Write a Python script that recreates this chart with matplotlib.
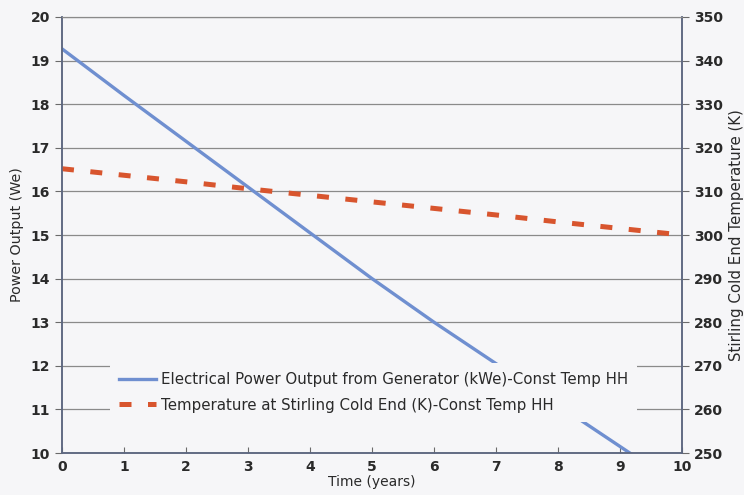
import matplotlib
matplotlib.use("Agg")
import matplotlib.pyplot as plt

# values (one per year)
years = [0, 1, 2, 3, 4, 5, 6, 7, 8, 9, 10]
power = [19.27, 18.2, 17.15, 16.1, 15.05, 14.0, 13.0, 12.05, 11.1, 10.15, 9.2]
temp_cold = [315.2, 313.7, 312.2, 310.6, 309.1, 307.6, 306.1, 304.6, 303.0, 301.5, 300.0]

x_ticks = list(range(0, 11))
power_ticks = list(range(10, 21))
temp_ticks = list(range(250, 351, 10))

bg = "#f6f6f8"
txt = "#2a2a2a"

fig = plt.figure(figsize=(7.44, 4.95), dpi=100, facecolor=bg)
ax = fig.add_axes([0.0833, 0.0848, 0.8334, 0.8809])
ax.set_facecolor(bg)

# grid lines on the left scale
ax.set_ylim(10, 20)
ax.set_xlim(0, 10)
ax.set_yticks(power_ticks)
ax.set_xticks(x_ticks)
ax.grid(axis="y", color="#8a8a8a", linewidth=0.9)
ax.set_axisbelow(True)

l1, = ax.plot(years, power, color="#6f8fd0", linewidth=2.4,
              label="Electrical Power Output from Generator (kWe)-Const Temp HH")

ax2 = ax.twinx()
ax2.set_ylim(250, 350)
ax2.set_yticks(temp_ticks)
l2, = ax2.plot(years, temp_cold, color="#d8552e", linewidth=3.6,
               dashes=(2.4, 3.3),
               label="Temperature at Stirling Cold End (K)-Const Temp HH")

for a in (ax, ax2):
    for s in ("left", "right", "bottom"):
        a.spines[s].set_color("#5d6780")
        a.spines[s].set_linewidth(1.1)
    a.spines["top"].set_color("#8a8a8a")
    a.tick_params(labelsize=10, labelcolor=txt, colors="#6a6a6a", length=5)

ax.tick_params(axis="x", direction="in", length=4, pad=5)
ax.set_xlabel("Time (years)", fontsize=10, color=txt, labelpad=1)
ax.set_ylabel("Power Output (We)", fontsize=10.3, color=txt, labelpad=5)
ax2.set_ylabel("Stirling Cold End Temperature (K)", fontsize=10.8, color=txt, labelpad=4)

for lab in ax.get_xticklabels() + ax.get_yticklabels() + ax2.get_yticklabels():
    lab.set_fontweight("bold")

leg = ax2.legend(handles=[l1, l2], loc="lower left", bbox_to_anchor=(0.065, 0.055),
                 frameon=True, facecolor=bg, edgecolor="none", framealpha=1,
                 fontsize=10.8, handlelength=2.5, handletextpad=0.3,
                 borderpad=0.6, labelspacing=0.7)
for t in leg.get_texts():
    t.set_color(txt)
leg.set_zorder(10)

plt.savefig("out.png", dpi=100, facecolor=bg)
